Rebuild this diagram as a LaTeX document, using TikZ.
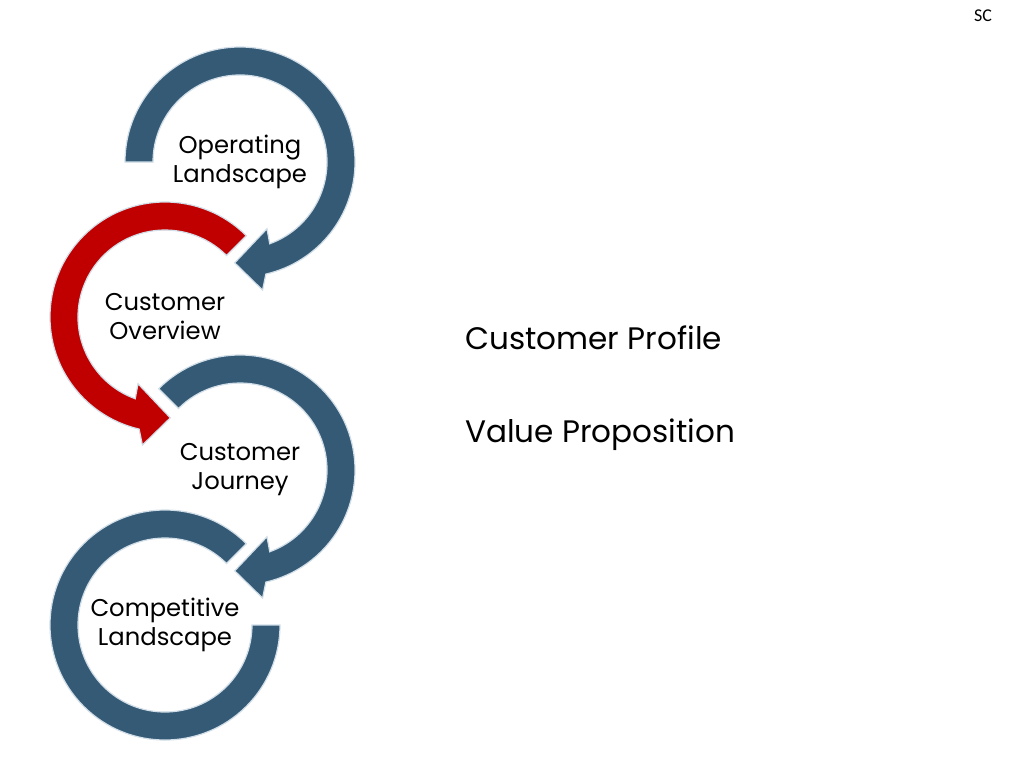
\documentclass[tikz,border=0pt]{standalone}
\usepackage{fontspec}
\setmainfont{Poppins}
\newfontfamily\scfont{Carlito}
\definecolor{ringblue}{RGB}{52,90,118}
\definecolor{ringred}{RGB}{192,0,0}
\definecolor{ringedge}{RGB}{210,222,232}
\begin{document}
\begin{tikzpicture}[x=0.75pt,y=0.75pt,
  ring/.style={line width=0.9pt,draw=ringedge},
  lbl/.style={align=center,font=\fontsize{18.2}{21.8}\selectfont,inner sep=0pt},
  side/.style={anchor=west,font=\fontsize{23.3}{28}\selectfont,inner sep=0pt}]
\useasboundingbox[fill=white] (0,0) rectangle (1024,-768);
% ring 4: Competitive Landscape
\begin{scope}[shift={(165,-625)}]
\fill[ringblue,ring] (45:115) arc[start angle=45,end angle=360,radius=115] -- (0:87) arc[start angle=360,end angle=45,radius=87] -- cycle;
\node[lbl] (c4) at (0,0) {Competitive\\Landscape};
\end{scope}
% ring 3: Customer Journey
\begin{scope}[shift={(240,-470)}]
\fill[ringblue,ring] (135:115) arc[start angle=135,end angle=-77,radius=115] -- (-80:130) -- (-93:101) -- (-68:72) -- (-70:87) arc[start angle=-70,end angle=135,radius=87] -- cycle;
\node[lbl] (c3) at (0,0) {Customer\\Journey};
\end{scope}
% ring 2: Customer Overview
\begin{scope}[shift={(165,-317)}]
\fill[ringred,ring] (45:115) arc[start angle=45,end angle=257,radius=115] -- (260:130) -- (273:101) -- (248:72) -- (250:87) arc[start angle=250,end angle=45,radius=87] -- cycle;
\node[lbl] (c2) at (0,0) {Customer\\Overview};
\end{scope}
% ring 1: Operating Landscape
\begin{scope}[shift={(240,-162)}]
\fill[ringblue,ring] (180:115) arc[start angle=180,end angle=-77,radius=115] -- (-80:130) -- (-93:101) -- (-68:72) -- (-70:87) arc[start angle=-70,end angle=180,radius=87] -- cycle;
\node[lbl] (c1) at (0,0) {Operating\\Landscape};
\end{scope}
\node[side] (t1) at (465,-338) {Customer Profile};
\node[side] (t2) at (465,-435) {Value Proposition};
\node[font=\scfont\fontsize{13.5}{16}\selectfont,inner sep=0pt] (sc) at (983,-16) {SC};
\end{tikzpicture}
\end{document}
